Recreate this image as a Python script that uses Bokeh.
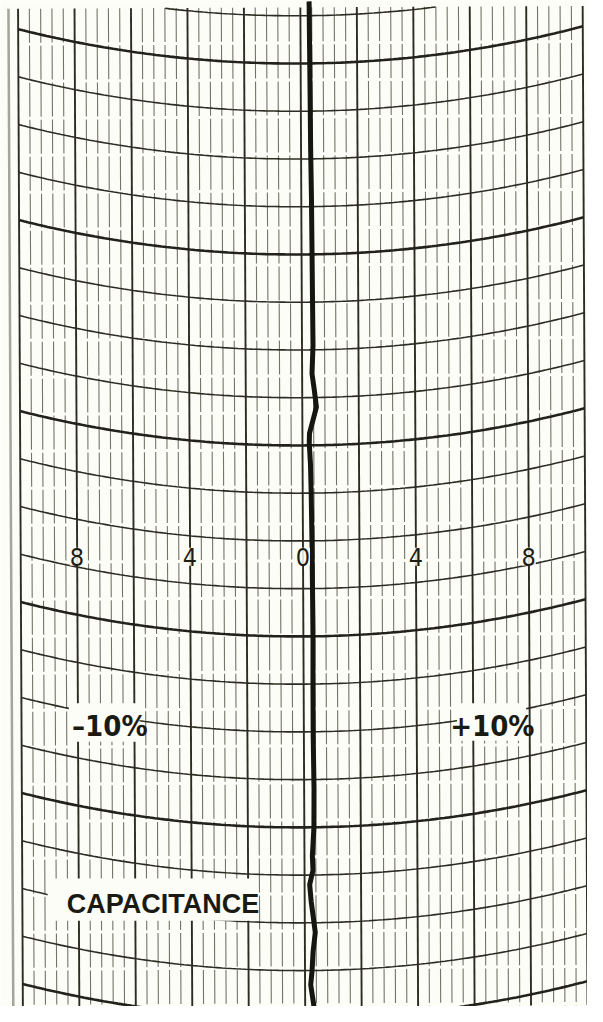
import numpy as np
from bokeh.plotting import figure
from bokeh.models import Range1d, ColumnDataSource
from bokeh.embed import file_html
from bokeh.resources import INLINE
from bokeh.core.properties import value

# ---------------- data ----------------
# scale labels printed across the strip chart (chart % units)
tick_values = [-8, -4, 0, 4, 8]
tick_labels = ["8", "4", "0", "4", "8"]
range_labels = ["\u201310%", "+10%"]
title_label = "CAPACITANCE"

# pen trace: time in chart divisions (downward) and deviation in % units
trace_t = [-1.3, -0.3, 0.7, 1.8, 2.8, 3.8, 4.9, 5.9, 6.5, 6.8, 7.2, 7.4, 7.75, 7.95,
           8.4, 9.0, 10.0, 11.0, 12.1, 13.1, 14.1, 15.2, 16.0, 16.6, 16.9, 17.2,
           17.55, 18.2, 18.6, 19.0, 19.3, 19.75]
trace_u = [0.31, 0.32, 0.33, 0.34, 0.36, 0.37, 0.38, 0.39, 0.35, 0.42, 0.50, 0.41,
           0.25, 0.24, 0.28, 0.30, 0.32, 0.33, 0.34, 0.33, 0.33, 0.35, 0.34, 0.28,
           0.30, 0.18, 0.23, 0.37, 0.29, 0.25, 0.20, 0.31]

# ---------------- chart geometry ----------------
PX_U = 29.0      # px per % unit
PX_T = 48.5      # px per time division
X0 = 308.0       # px of zero line at top
Y0 = 64.0        # px of division 0 at centre
R = 1176.0       # pen arm radius (px)
TH = 5.0 / 1022  # slight skew of the paper
TOP = 7.0

def to_fig(X, Y):
    sx = X0 + X + TH * Y
    sy = Y - TH * X
    return (sx - X0) / PX_U, (sy - Y0) / PX_T

# figure spans the whole 603 x 1022 reference
xr = Range1d((0 - X0) / PX_U, (603 - X0) / PX_U)
yr = Range1d((1022 - Y0) / PX_T, (0 - Y0) / PX_T)

PAPER = "#fdfdf8"
p = figure(width=587, height=1006, x_range=xr, y_range=yr,
           output_backend="svg", toolbar_location=None,
           background_fill_color=PAPER, border_fill_color=PAPER,
           min_border=0)
p.axis.visible = False
p.grid.visible = False
p.outline_line_color = None

# vertical lines
minor_xs, minor_ys, major_xs, major_ys = [], [], [], []
for i in range(-25, 26):
    u = i * 0.4
    Yv = np.array([TOP, 1022.0])
    fx, fy = to_fig(np.full(2, u * PX_U), Yv)
    if i % 5 == 0:
        major_xs.append(list(fx)); major_ys.append(list(fy))
    else:
        minor_xs.append(list(fx)); minor_ys.append(list(fy))

p.multi_line(minor_xs, minor_ys, line_color="#5a5a4e", line_width=1.1,
             line_alpha=0.85, line_dash="34 3")
p.multi_line(major_xs, major_ys, line_color="#2c2c22", line_width=1.9)

# paper edge
ex, ey = to_fig(np.full(2, -10.34 * PX_U), np.array([TOP, 1022.0]))
p.line(ex, ey, line_color="#a4a49a", line_width=2.5)

# arcs (time lines)
arc_xs, arc_ys, barc_xs, barc_ys = [], [], [], []
Xa = np.linspace(-10 * PX_U, 10 * PX_U, 120)
for k in range(-1, 21):
    Ya = Y0 + PX_T * k - (R - np.sqrt(R ** 2 - Xa ** 2))
    Ya = np.where(Ya < TOP, np.nan, Ya)
    fx, fy = to_fig(Xa, Ya)
    if k % 4 == 0:
        barc_xs.append(list(fx)); barc_ys.append(list(fy))
    else:
        arc_xs.append(list(fx)); arc_ys.append(list(fy))

p.multi_line(arc_xs, arc_ys, line_color="#2c2c22", line_width=1.6)
p.multi_line(barc_xs, barc_ys, line_color="#22221a", line_width=2.6)

# label boxes
box_l = [-6.95 - 1.25, 6.85 - 1.3, -8.95]
box_r = [-6.95 + 1.25, 6.85 + 1.15, -1.5]
box_top = [(714 - Y0) / PX_T, (714 - Y0) / PX_T, (892 - Y0) / PX_T]
box_bot = [(753 - Y0) / PX_T, (752 - Y0) / PX_T, (935 - Y0) / PX_T]
p.quad(left=box_l, right=box_r, top=box_top, bottom=box_bot,
       fill_color=PAPER, line_color=None)

# pen trace
tx, ty = to_fig(np.array(trace_u) * PX_U, Y0 + np.array(trace_t) * PX_T)
p.line(tx, ty, line_color="#161610", line_width=5, line_join="round")

# scale digits
lab_t = (565 - Y0) / PX_T
dsrc = ColumnDataSource(dict(x=[v + 0.09 for v in tick_values],
                             y=[lab_t] * len(tick_values), t=tick_labels))
p.text(x="x", y="y", text="t", source=dsrc, text_align="center",
       text_baseline="middle", text_font=value("DejaVu Sans Condensed"),
       text_font_size="25px", text_color="#1e1e16",
       background_fill_color=PAPER, background_fill_alpha=0.85)

# range labels
rsrc = ColumnDataSource(dict(x=[-6.75, 6.8], y=[(737 - Y0) / PX_T] * 2, t=range_labels))
p.text(x="x", y="y", text="t", source=rsrc, text_align="center",
       text_baseline="middle", text_font=value("DejaVu Sans Condensed"),
       text_font_size="29px", text_font_style="bold", text_color="#1a1a14")

csrc = ColumnDataSource(dict(x=[(68 - X0) / PX_U], y=[(918 - Y0) / PX_T], t=[title_label]))
p.text(x="x", y="y", text="t", source=csrc, text_align="left",
       text_baseline="middle", text_font=value("Liberation Sans"),
       text_font_size="27px", text_font_style="bold", text_color="#1a1a14")

open("out.html", "w").write(file_html(p, INLINE))
